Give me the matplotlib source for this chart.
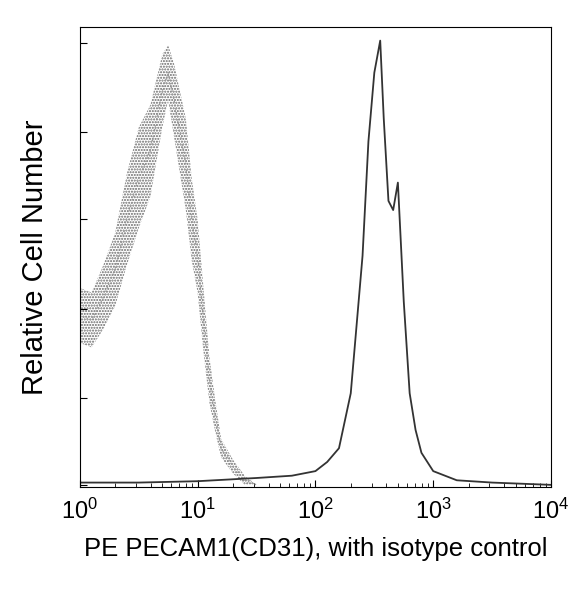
import numpy as np
import matplotlib.pyplot as plt

plt.rcParams['font.family'] = ['Liberation Sans', 'DejaVu Sans']

# isotype control histogram (log10 fluorescence, relative height)
iso_log = [0.0, 0.1, 0.2, 0.3, 0.4, 0.5, 0.6, 0.7, 0.75, 0.8, 0.9, 0.95,
           1.0, 1.05, 1.1, 1.15, 1.2, 1.3, 1.4, 1.5]
iso_val = [0.37, 0.36, 0.41, 0.47, 0.58, 0.67, 0.73, 0.86, 0.9, 0.84, 0.7, 0.58,
           0.5, 0.36, 0.23, 0.15, 0.08, 0.04, 0.01, 0.0]
iso_spread = [0.12, 0.12, 0.14, 0.16, 0.2, 0.22, 0.2, 0.16, 0.12, 0.16, 0.2, 0.18,
              0.16, 0.14, 0.1, 0.07, 0.04, 0.03, 0.02, 0.0]

# PE PECAM1 (CD31) stained sample
pe_log = [0.0, 0.5, 1.0, 1.5, 1.8, 2.0, 2.1, 2.2, 2.3, 2.35, 2.4, 2.45, 2.5, 2.55,
          2.58, 2.62, 2.66, 2.7, 2.75, 2.8, 2.85, 2.9, 3.0, 3.2, 3.5, 4.0]
pe_val = [0.005, 0.005, 0.008, 0.015, 0.02, 0.03, 0.05, 0.08, 0.2, 0.35, 0.5, 0.75, 0.9, 0.97,
          0.8, 0.62, 0.6, 0.66, 0.4, 0.2, 0.12, 0.07, 0.03, 0.01, 0.005, 0.0]

fig = plt.figure(figsize=(5.74, 5.97), dpi=100)
ax = fig.add_axes([0.139, 0.184, 0.821, 0.771])

x_iso = 10 ** np.array(iso_log)
lo = np.clip(np.array(iso_val) - np.array(iso_spread) / 2, 0, None)
hi = np.array(iso_val) + np.array(iso_spread) / 2
ax.fill_between(x_iso, lo, hi, facecolor='none', edgecolor='#666666',
                hatch='......', linewidth=0)
ax.plot(x_iso, iso_val, color='#999999', linestyle=':', linewidth=1)

ax.plot(10 ** np.array(pe_log), pe_val, color='#333333', linewidth=1.3)

ax.set_xscale('log')
ax.set_xlim(1, 1e4)
ax.set_ylim(-0.005, 1.0)
ax.set_yticks([0.0, 0.19, 0.385, 0.58, 0.77, 0.965])
ax.set_yticklabels([])
ax.tick_params(axis='both', direction='in', length=5, labelsize=17, pad=8)
ax.tick_params(axis='x', which='minor', direction='in', length=3)
ax.set_xlabel('PE PECAM1(CD31), with isotype control', fontsize=18.5, labelpad=10)
ax.set_ylabel('Relative Cell Number', fontsize=21, labelpad=14)
fig.savefig('out.png')
